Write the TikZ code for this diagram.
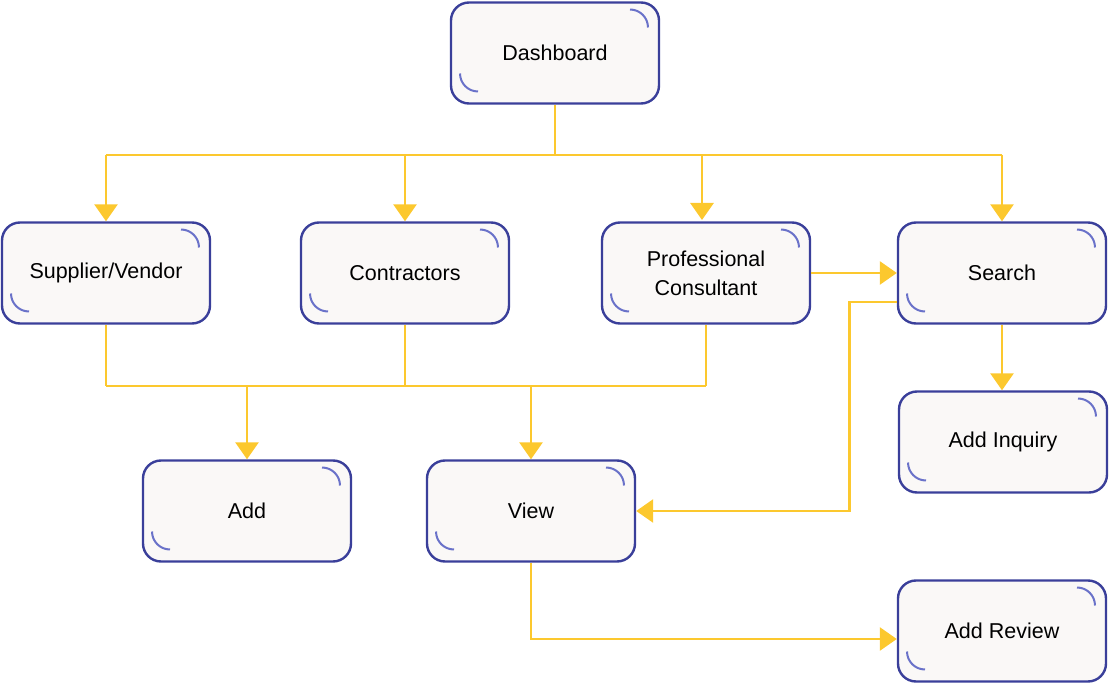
\documentclass[tikz,border=0pt]{standalone}
\usepackage{fontspec}
\setmainfont{Liberation Sans}
\usepackage{tikz}
\usetikzlibrary{arrows.meta, positioning, calc}
\usepackage{xcolor}
\definecolor{boxborder}{HTML}{3A3F9A}
\definecolor{boxfill}{HTML}{FAF8F7}
\definecolor{cornerarc}{HTML}{6A72C9}
\definecolor{flowyellow}{HTML}{FCC82E}
\tikzset{
  screen/.style={rectangle, minimum width=208pt, minimum height=101pt, text centered, align=center,
    draw=boxborder, line width=2.4pt, fill=boxfill, rounded corners=18pt,
    font=\fontsize{21.5}{29}\selectfont,
    path picture={
      \draw[cornerarc, line width=2pt] ([xshift=-29pt,yshift=-7pt]path picture bounding box.north east) arc (90:0:18pt);
      \draw[cornerarc, line width=2pt] ([xshift=9pt,yshift=30pt]path picture bounding box.south west) arc (180:270:18pt);
    }},
  flow/.style={line width=2.8pt, color=flowyellow},
  arrow/.style={flow, -{Triangle[length=17pt, width=23pt]}}
}

\begin{document}
\begin{tikzpicture}[x=1pt, y=1pt]
    \useasboundingbox (0,0) rectangle (1109,-684);
    % Defining nodes
    \node[screen] (dashboard) at (555,-53) {Dashboard};
    \node[screen] (supplier) at (106,-273) {Supplier/Vendor};
    \node[screen] (contractors) at (405,-273) {Contractors};
    \node[screen] (consultant) at (706,-273) {Professional\\Consultant};
    \node[screen] (search) at (1002,-273) {Search};
    \node[screen] (inquiry) at (1003,-442) {Add Inquiry};
    \node[screen] (add) at (247,-511) {Add};
    \node[screen] (view) at (531,-511) {View};
    \node[screen] (review) at (1002,-631) {Add Review};

    % Junction points
    \coordinate (topleft) at (106,-155);
    \coordinate (topright) at (1002,-155);
    \coordinate (botleft) at (106,-386);
    \coordinate (botright) at (706,-386);

    % Drawing arrows
    \draw[flow] (dashboard) -- (dashboard |- topleft);
    \draw[flow] (topleft) -- (topright);
    \draw[arrow] (topleft) -- (supplier);
    \draw[arrow] (contractors |- topleft) -- (contractors);
    \draw[arrow] (702,-155) -- (702,-220);
    \draw[arrow] (topright) -- (search);
    \draw[flow] (supplier) -- (botleft);
    \draw[flow] (contractors) -- (contractors |- botleft);
    \draw[flow] (consultant) -- (botright);
    \draw[flow] (botleft) -- (botright);
    \draw[arrow] (add |- botleft) -- (add);
    \draw[arrow] (view |- botleft) -- (view);
    \draw[arrow] (consultant) -- (search);
    \draw[arrow] ([yshift=-29pt]search.west) -- ++(-47,0) |- (view);
    \draw[arrow] (search) -- (search |- inquiry.north);
    \draw[arrow] (view) |- ([yshift=-8pt]review.west);
\end{tikzpicture}
\end{document}
